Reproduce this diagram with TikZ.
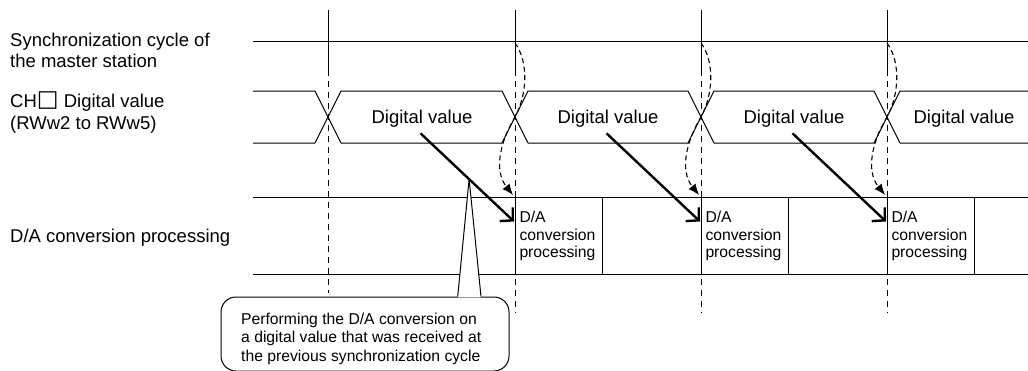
\documentclass[tikz,border=0pt]{standalone}
\usepackage{fontspec}
\setmainfont{Liberation Sans}
\newfontfamily\symfont{DejaVu Sans}
\usetikzlibrary{arrows.meta,calc}

\begin{document}
\begin{tikzpicture}[x=1pt, y=-1pt, line join=round,
    sig/.style={line width=1pt},
    guide/.style={line width=1pt, dash pattern=on 6pt off 5pt},
    hop/.style={line width=1.1pt, dash pattern=on 5pt off 3.5pt, -{Latex[length=11pt,width=9pt]}},
    feed/.style={line width=2.4pt, -{Straight Barb[length=9pt,width=19pt]}},
    lbl/.style={inner sep=0pt, anchor=west, align=left, font=\fontsize{18.5}{21.5}\selectfont},
    val/.style={inner sep=0pt, font=\fontsize{18.5}{21.5}\selectfont},
    dabox/.style={draw, line width=1pt, anchor=north west, minimum width=87pt, minimum height=77pt,
      text width=79pt, inner xsep=4pt, inner ysep=0pt, align=left, font=\fontsize{15.7}{17.5}\selectfont},
    notebox/.style={draw, line width=1pt, rounded corners=15pt, minimum width=288pt, minimum height=74pt, inner sep=0pt},
    notetxt/.style={inner sep=0pt, anchor=north west, align=left, font=\fontsize{15.7}{18.5}\selectfont}]

  \useasboundingbox (0,0) rectangle (1028,370);

  \node[lbl] (lblsync) at (10,50.6) {Synchronization cycle of\\the master station};
  \node[lbl] (lbldig) at (10,112.5) {CH{\symfont\bfseries\fontsize{23}{23}\selectfont\raisebox{1pt}{□}} Digital value\\(RWw2 to RWw5)};
  \node[lbl] (lblda) at (10,237.5) {D/A conversion processing};

  \draw[sig] (253,41) -- (1028,41);
  \draw[sig] (253,197) -- (1028,197);
  \draw[sig] (253,274) -- (1028,274);

  \draw[sig] (253,91) -- (315,91) -- (341,143) -- (502,143) -- (528,91) -- (688,91)
    -- (714,143) -- (874,143) -- (900,91) -- (1028,91);
  \draw[sig] (253,143) -- (315,143) -- (341,91) -- (502,91) -- (528,143) -- (688,143)
    -- (714,91) -- (874,91) -- (900,143) -- (1028,143);

  \draw[sig] (328,10) -- (328,70);
  \draw[guide] (328,70) -- (328,293);

  \foreach \sx/\n in {515/1,701/2,887/3} {
    \draw[sig] (\sx,10) -- (\sx,70);
    \draw[guide] (\sx,70) -- (\sx,313);
    \node[val] (dv\n) at (\sx-93,119) {Digital value};
    \node[dabox] (da\n) at (\sx,197) {D/A\\conversion\\processing};
    \draw[hop] (\sx,43) .. controls (\sx+14,62) and (\sx+12,95) .. (\sx,117)
      .. controls (\sx-14,140) and (\sx-22,170) .. (\sx-2,195);
    \coordinate (fs\n) at ($(dv\n.south)+(-1.5,5.5)$);
    \coordinate (fe\n) at ($(da\n.west)+(-1,-14.5)$);
  }
  \node[val] (dv4) at (964,119) {Digital value};

  \node[notebox] (note) at (365,334) {};
  \node[notetxt] (notetext) at (241,312.5) {Performing the D/A conversion on\\a digital value that was received at\\the previous synchronization cycle};
  \coordinate (tip) at ($(fs1)!0.52!(fe1)$);
  \fill[white] ($(note.north)+(92.7,0.8)$) -- (tip) -- ($(note.north)+(116,0.8)$) -- cycle;
  \draw[sig] ($(note.north)+(92.7,0)$) -- (tip) -- ($(note.north)+(116,0)$);

  \foreach \n in {1,2,3}
    \draw[feed] (fs\n) -- (fe\n);
\end{tikzpicture}
\end{document}
